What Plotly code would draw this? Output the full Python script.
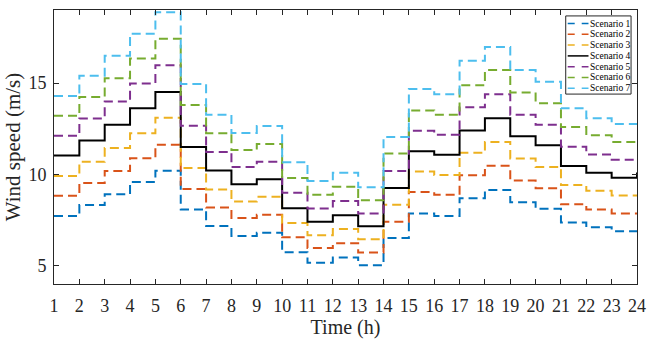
import plotly.graph_objects as go

hours = list(range(1, 25))
scenario_names = ["Scenario 1", "Scenario 2", "Scenario 3", "Scenario 4",
                  "Scenario 5", "Scenario 6", "Scenario 7"]

s1 = [7.72, 8.32, 8.91, 9.59, 10.20, 8.08, 7.17, 6.63, 6.81, 5.74, 5.16, 5.45,
      5.02, 6.52, 7.86, 7.72, 8.70, 9.15, 8.48, 8.12, 7.37, 7.10, 6.89, 6.89]
s2 = [8.83, 9.53, 10.18, 10.89, 11.63, 9.20, 8.19, 7.61, 7.79, 6.56, 5.97, 6.23,
      5.73, 7.41, 9.04, 8.88, 9.95, 10.47, 9.66, 9.24, 8.37, 8.08, 7.86, 7.86]
s3 = [9.91, 10.69, 11.45, 12.25, 13.10, 10.35, 9.18, 8.52, 8.77, 7.34, 6.67, 7.01,
      6.45, 8.34, 10.16, 9.97, 11.18, 11.78, 10.87, 10.40, 9.42, 9.10, 8.84, 8.84]
s4 = [11.03, 11.85, 12.72, 13.62, 14.51, 11.50, 10.22, 9.46, 9.73, 8.15, 7.41, 7.77,
      7.16, 9.26, 11.27, 11.07, 12.41, 13.08, 12.09, 11.60, 10.46, 10.09, 9.82, 10.10]
s5 = [12.12, 13.06, 13.99, 14.98, 15.98, 12.66, 11.23, 10.40, 10.69, 8.99, 8.14, 8.55,
      7.86, 10.18, 12.39, 12.17, 13.68, 14.39, 13.26, 12.72, 11.51, 11.09, 10.80, 10.80]
s6 = [13.21, 14.24, 15.26, 16.34, 17.43, 13.80, 12.25, 11.33, 11.67, 9.80, 8.88, 9.32,
      8.59, 11.14, 13.50, 13.26, 14.88, 15.71, 14.48, 13.90, 12.59, 12.14, 11.78, 11.78]
s7 = [14.29, 15.40, 16.50, 17.70, 18.88, 14.95, 13.26, 12.27, 12.65, 10.67, 9.64, 10.09,
      9.29, 12.05, 14.67, 14.39, 16.22, 16.98, 15.71, 15.07, 13.62, 13.08, 12.76, 12.76]

series = [s1, s2, s3, s4, s5, s6, s7]
colors = ["#0072BD", "#D95319", "#EDB120", "#000000", "#7E2F8E", "#77AC30", "#4DBEEE"]
dashes = ["9px,5px", "9px,5px", "9px,5px", "solid", "9px,5px", "9px,5px", "9px,5px"]

FONT = "Liberation Serif, Times New Roman, serif"
W, H = 655, 340
L, R, T, B = 54, 643, 9, 286

fig = go.Figure()
for name, ys, c, d in zip(scenario_names, series, colors, dashes):
    fig.add_trace(go.Scatter(x=hours, y=ys, mode="lines", name=name,
                             line=dict(color=c, width=2, dash=d, shape="hv"),
                             showlegend=False))

def px(x):
    return (x - L) / (R - L)

def py(y):
    return (B - y) / (B - T)

# custom legend box
lx0, lx1, ly0, ly1 = 571, 637, 15, 94
fig.add_shape(type="rect", xref="paper", yref="paper",
              x0=px(lx0), x1=px(lx1), y0=py(ly1), y1=py(ly0),
              line=dict(color="#262626", width=1), fillcolor="white", layer="above")
for i, (name, c, d) in enumerate(zip(scenario_names, colors, dashes)):
    yc = 22.7 + i * 10.9
    fig.add_shape(type="line", xref="paper", yref="paper",
                  x0=px(573), x1=px(594), y0=py(yc), y1=py(yc),
                  line=dict(color=c, width=1.5, dash=("solid" if d == "solid" else "7px,7px")),
                  layer="above")
    fig.add_annotation(text=name, xref="paper", yref="paper", x=px(594), y=py(yc),
                       xanchor="left", yanchor="middle", showarrow=False,
                       font=dict(family=FONT, size=9.5, color="black"))

axis_common = dict(showline=True, mirror="allticks", linecolor="#262626", linewidth=1,
                   ticks="inside", ticklen=5, tickcolor="#262626", showgrid=False,
                   zeroline=False, tickfont=dict(family=FONT, size=18, color="#262626"))

fig.update_layout(
    width=W, height=H,
    margin=dict(l=L, r=W - R, t=T, b=H - B),
    plot_bgcolor="white", paper_bgcolor="white",
    xaxis=dict(range=[1, 24], tickmode="array", tickvals=hours,
               ticktext=[str(h) for h in hours], ticklabelstandoff=5,
               title=dict(text="Time (h)", font=dict(family=FONT, size=20, color="#262626"),
                          standoff=1),
               **axis_common),
    yaxis=dict(range=[4, 19], tickmode="array", tickvals=[5, 10, 15],
               ticklabelstandoff=3,
               title=dict(text="Wind speed (m/s)", font=dict(family=FONT, size=21, color="#262626"),
                          standoff=2),
               **axis_common),
)

fig.write_html("out.html")
